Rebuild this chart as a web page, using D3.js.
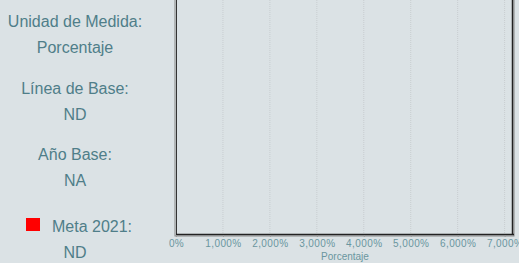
<!DOCTYPE html>
<html>
<head>
<meta charset="utf-8">
<script src="https://cdn.jsdelivr.net/npm/d3@7"></script>
<style>
  html, body { margin: 0; padding: 0; background: #dbe2e5; }
  #chart { width: 519px; height: 263px; }
  text { font-family: "Liberation Sans", Arial, sans-serif; }
</style>
</head>
<body>
<div id="chart"></div>
<script>
// Datos del indicador
const infoLabels = ['Unidad de Medida:', 'Línea de Base:', 'Año Base:', 'Meta 2021:'];
const infoValues = ['Porcentaje', 'ND', 'NA', 'ND'];
const xDomain = [0, 7200];
const xTicks = [0, 1000, 2000, 3000, 4000, 5000, 6000, 7000];
const xTitle = 'Porcentaje';

const width = 519, height = 263;
const margin = { top: -2, right: 5, bottom: 28, left: 176 };

const svg = d3.select('#chart')
  .append('svg')
  .attr('width', width)
  .attr('height', height);

// Panel de información a la izquierda
const info = svg.append('g');
const rowY = [21, 88, 154, 226];
infoLabels.forEach((lbl, i) => {
  info.append('text')
    .attr('x', i === 3 ? 92 : 75)
    .attr('y', rowY[i])
    .attr('dy', '0.35em')
    .attr('text-anchor', 'middle')
    .attr('fill', '#4f7e89')
    .style('font-size', '16px')
    .text(lbl);
  info.append('text')
    .attr('x', 75)
    .attr('y', rowY[i] + 26)
    .attr('dy', '0.35em')
    .attr('text-anchor', 'middle')
    .attr('fill', '#4f7e89')
    .style('font-size', '16px')
    .text(infoValues[i]);
});
// cuadro de la meta
info.append('rect')
  .attr('x', 26).attr('y', 218)
  .attr('width', 14).attr('height', 13)
  .attr('fill', '#ff0000');

const innerW = width - margin.left - margin.right;
const innerH = height - margin.top - margin.bottom;

const x = d3.scaleLinear().domain(xDomain).range([0, innerW]);

const g = svg.append('g')
  .attr('transform', `translate(${margin.left},${margin.top})`);

// líneas de la cuadrícula
g.selectAll('.grid')
  .data(xTicks.filter(t => t > 0))
  .enter().append('line')
  .attr('x1', d => x(d)).attr('x2', d => x(d))
  .attr('y1', 0).attr('y2', innerH)
  .attr('stroke', '#c8cdd0')
  .attr('stroke-dasharray', '1,1');

// sombra del marco
g.append('rect')
  .attr('x', -1).attr('y', 0)
  .attr('width', innerW + 1).attr('height', innerH + 1)
  .attr('fill', 'none')
  .attr('stroke', '#888')
  .attr('stroke-width', 1);

// marco
g.append('line')
  .attr('x1', 0.5).attr('x2', 0.5).attr('y1', 0).attr('y2', innerH)
  .attr('stroke', '#333');
g.append('line')
  .attr('x1', 0).attr('x2', innerW).attr('y1', innerH - 0.5).attr('y2', innerH - 0.5)
  .attr('stroke', '#222').attr('stroke-width', 1.5);
g.append('line')
  .attr('x1', innerW - 1.5).attr('x2', innerW - 1.5).attr('y1', 0).attr('y2', innerH)
  .attr('stroke', '#222').attr('stroke-width', 1.5);

// eje X
const fmt = d3.format(',');
const xAxis = g.append('g')
  .attr('transform', `translate(0,${innerH})`)
  .call(d3.axisBottom(x).tickValues(xTicks).tickSize(2).tickPadding(3).tickFormat(d => fmt(d) + '%'));
xAxis.select('.domain').remove();
xAxis.selectAll('.tick line').attr('stroke', '#999');
xAxis.selectAll('text')
  .attr('fill', '#6a969f')
  .style('font-size', '10px')
  .style('letter-spacing', '0.4px');

g.append('text')
  .attr('x', innerW / 2)
  .attr('y', innerH + 25)
  .attr('text-anchor', 'middle')
  .attr('fill', '#6a969f')
  .style('font-size', '10px')
  .text(xTitle);
</script>
</body>
</html>
